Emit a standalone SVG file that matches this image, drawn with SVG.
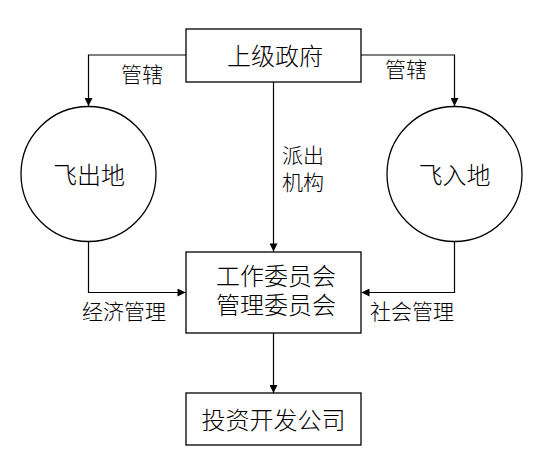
<svg xmlns="http://www.w3.org/2000/svg" width="547" height="470" viewBox="0 0 547 470">
<style>
.box{fill:#fff;stroke:#000;stroke-width:1.3}
.t{font-family:"Noto Sans CJK SC","Noto Sans CJK JP",sans-serif;font-size:24px;font-weight:300;fill:#000;text-anchor:middle}
.l{font-family:"Noto Sans CJK SC","Noto Sans CJK JP",sans-serif;font-size:21px;font-weight:300;fill:#000;text-anchor:middle}
.c{fill:none;stroke:#000;stroke-width:1.2}
</style>
<defs>
<marker id="arr" viewBox="0 0 10 10" refX="10" refY="5" markerWidth="9" markerHeight="8" markerUnits="userSpaceOnUse" orient="auto">
<path d="M0,0 L10,5 L0,10 Z" fill="#000"/>
</marker>
</defs>
<rect width="547" height="470" fill="#fff"/>
<g id="connectors">
<path class="c" d="M186,55 H88.5 V106" marker-end="url(#arr)"/>
<path class="c" d="M361,55 H454.5 V106" marker-end="url(#arr)"/>
<path class="c" d="M273.5,82 V251.5" marker-end="url(#arr)"/>
<path class="c" d="M88.5,241 V292.5 H185.5" marker-end="url(#arr)"/>
<path class="c" d="M454.5,241 V292.5 H361.5" marker-end="url(#arr)"/>
<path class="c" d="M273.5,333 V393" marker-end="url(#arr)"/>
</g>
<g id="labels">
<text class="l" x="142" y="81.5">管辖</text>
<text class="l" x="406" y="76.5">管辖</text>
<text class="l" x="303" y="162.5">派出</text>
<text class="l" x="303" y="189.5">机构</text>
<text class="l" x="124" y="319">经济管理</text>
<text class="l" x="412" y="318.5">社会管理</text>
</g>
<g id="gov">
<rect class="box" x="186" y="29" width="175" height="53"/>
<text class="t" x="275" y="65">上级政府</text>
</g>
<g id="feichu">
<circle class="box" cx="88.5" cy="174" r="67.5"/>
<text class="t" x="89" y="183.5">飞出地</text>
</g>
<g id="feiru">
<circle class="box" cx="454.5" cy="174" r="67.5"/>
<text class="t" x="454.5" y="184">飞入地</text>
</g>
<g id="committee">
<rect class="box" x="186" y="252" width="175" height="81"/>
<text class="t" x="276" y="285">工作委员会</text>
<text class="t" x="276" y="314">管理委员会</text>
</g>
<g id="company">
<rect class="box" x="186" y="393" width="175" height="52"/>
<text class="t" x="273.5" y="428.5">投资开发公司</text>
</g>
</svg>
